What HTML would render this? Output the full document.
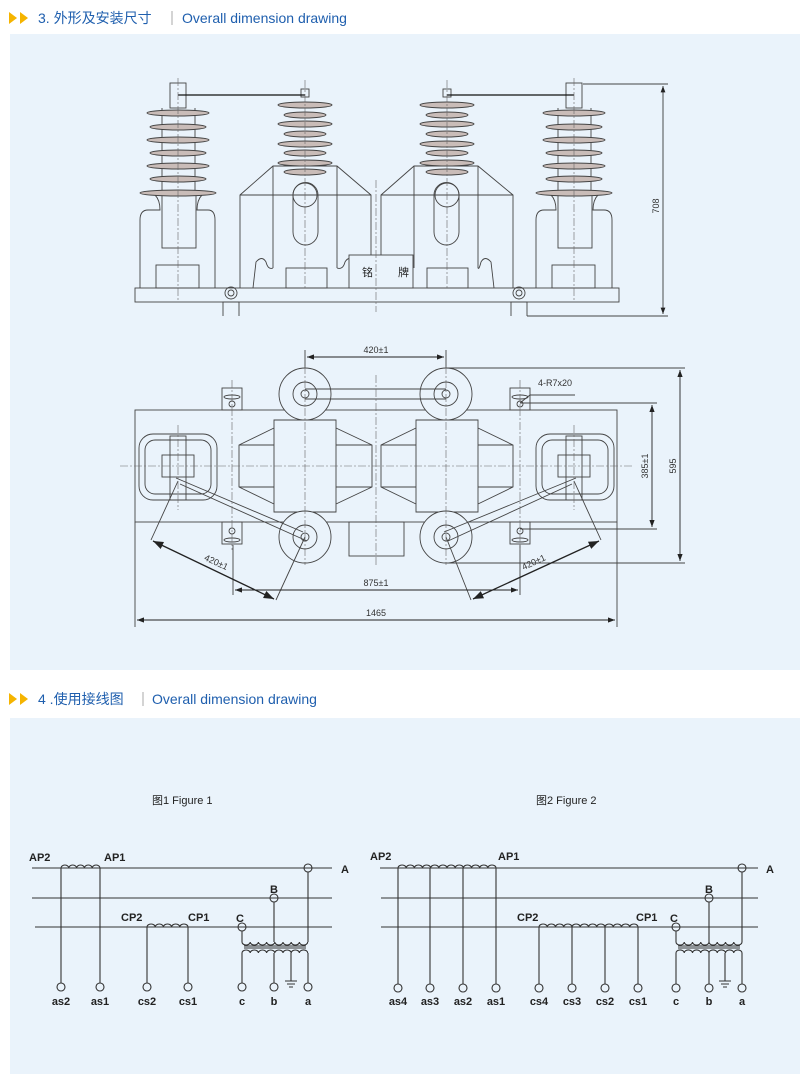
<!DOCTYPE html>
<html><head><meta charset="utf-8"><style>
html,body{margin:0;padding:0;background:#fff;}
svg{display:block;}
.h{font-family:"Liberation Sans","Noto Sans CJK SC",sans-serif;font-size:14px;fill:#1f5fae;}
.t{font-family:"Liberation Sans","Noto Sans CJK SC",sans-serif;font-size:9px;fill:#333;}
.w{font-family:"Liberation Sans","Noto Sans CJK SC",sans-serif;font-size:11px;fill:#222;}
.d{stroke:#444;stroke-width:0.9;fill:none;}
.c{stroke:#666;stroke-width:0.6;fill:none;stroke-dasharray:8 2 2 2;}
.k{stroke:#333;stroke-width:1.1;fill:none;}
</style></head><body>
<svg width="800" height="1074" viewBox="0 0 800 1074" xmlns="http://www.w3.org/2000/svg">
<defs>
<marker id="ar" markerWidth="8" markerHeight="6" refX="8" refY="3" orient="auto-start-reverse"><path d="M0,0 L8,3 L0,6z" fill="#222"/></marker>
</defs>
<polygon points="9,12 17,18 9,24" fill="#f5b400"/><polygon points="20,12 28,18 20,24" fill="#f5b400"/>
<text x="38" y="23" class="h">3.  外形及安装尺寸</text>
<line x1="172" y1="11" x2="172" y2="25" stroke="#aaa"/>
<text x="182" y="23" class="h">Overall dimension drawing</text>
<rect x="10" y="34" width="790" height="636" fill="#eaf3fb"/>

<polygon points="9,693 17,699 9,705" fill="#f5b400"/><polygon points="20,693 28,699 20,705" fill="#f5b400"/>
<text x="38" y="704" class="h">4 .使用接线图</text>
<line x1="143" y1="692" x2="143" y2="706" stroke="#aaa"/>
<text x="152" y="704" class="h">Overall dimension drawing</text>
<rect x="10" y="718" width="790" height="356" fill="#eaf3fb"/>

<!-- ===== SIDE VIEW ===== -->
<g class="d">
<rect x="135" y="288" width="484" height="14"/>
<rect x="170" y="83" width="16" height="25"/>
<path d="M162,108 L162,195 M195,108 L195,195"/>
<path d="M155,195 Q160,200 160,210 L148,210 Q140,210 140,220 L140,288 M202,195 Q197,200 197,210 L208,210 Q215,210 215,220 L215,288"/>
<rect x="162" y="195" width="34" height="53"/>
<rect x="156" y="265" width="43" height="23"/>
<rect x="566" y="83" width="16" height="25"/>
<path d="M558,108 L558,195 M591,108 L591,195"/>
<path d="M551,195 Q556,200 556,210 L544,210 Q536,210 536,220 L536,288 M598,195 Q593,200 593,210 L604,210 Q612,210 612,220 L612,288"/>
<rect x="558" y="195" width="34" height="53"/>
<rect x="552" y="265" width="43" height="23"/>
<path d="M240,288 L240,195 L273,166 L337,166 L371,195 L371,288 M240,195 L371,195 M273,166 L273,268 M337,166 L337,268"/>
<path d="M293,195 A12.5,12.5 0 0 1 318,195 L318,232 A12.5,13 0 0 1 293,232 Z"/>
<circle cx="305" cy="195" r="12"/>
<path d="M253,288 L256,262 Q262,255 266,262 Q268,270 273,268 M337,268 Q343,270 345,262 Q349,255 355,262 L358,288"/>
<rect x="286" y="268" width="41" height="20"/>
<path d="M381,288 L381,195 L414,166 L478,166 L513,195 L513,288 M381,195 L513,195 M414,166 L414,268 M478,166 L478,268"/>
<path d="M434,195 A12.5,12.5 0 0 1 459,195 L459,232 A12.5,13 0 0 1 434,232 Z"/>
<circle cx="447" cy="195" r="12"/>
<path d="M494,288 L491,262 Q485,255 481,262 Q479,270 478,268"/>
<rect x="427" y="268" width="41" height="20"/>
<rect x="349" y="255" width="64" height="33" fill="#eaf3fb"/>
</g>
<text x="362" y="276" class="w">铭</text><text x="398" y="276" class="w">牌</text>
<g fill="#c9bcb8" stroke="#444" stroke-width="0.9">
<ellipse cx="178" cy="113" rx="31" ry="3"/><ellipse cx="178" cy="127" rx="28" ry="3"/><ellipse cx="178" cy="140" rx="31" ry="3"/><ellipse cx="178" cy="153" rx="28" ry="3"/><ellipse cx="178" cy="166" rx="31" ry="3"/><ellipse cx="178" cy="179" rx="28" ry="3"/><ellipse cx="178" cy="193" rx="38" ry="3"/>
<ellipse cx="574" cy="113" rx="31" ry="3"/><ellipse cx="574" cy="127" rx="28" ry="3"/><ellipse cx="574" cy="140" rx="31" ry="3"/><ellipse cx="574" cy="153" rx="28" ry="3"/><ellipse cx="574" cy="166" rx="31" ry="3"/><ellipse cx="574" cy="179" rx="28" ry="3"/><ellipse cx="574" cy="193" rx="38" ry="3"/>
<ellipse cx="305" cy="105" rx="27" ry="3"/><ellipse cx="305" cy="115" rx="21" ry="3"/><ellipse cx="305" cy="124" rx="27" ry="3"/><ellipse cx="305" cy="134" rx="21" ry="3"/><ellipse cx="305" cy="144" rx="27" ry="3"/><ellipse cx="305" cy="153" rx="21" ry="3"/><ellipse cx="305" cy="163" rx="27" ry="3"/><ellipse cx="305" cy="172" rx="21" ry="3"/>
<ellipse cx="447" cy="105" rx="27" ry="3"/><ellipse cx="447" cy="115" rx="21" ry="3"/><ellipse cx="447" cy="124" rx="27" ry="3"/><ellipse cx="447" cy="134" rx="21" ry="3"/><ellipse cx="447" cy="144" rx="27" ry="3"/><ellipse cx="447" cy="153" rx="21" ry="3"/><ellipse cx="447" cy="163" rx="27" ry="3"/><ellipse cx="447" cy="172" rx="21" ry="3"/>
</g>
<g class="d"><rect x="301" y="89" width="8" height="8"/><rect x="443" y="89" width="8" height="8"/></g>
<line x1="178" y1="95" x2="305" y2="95" stroke="#111" stroke-width="1.3"/>
<line x1="447" y1="95" x2="574" y2="95" stroke="#111" stroke-width="1.3"/>
<g class="c"><line x1="178" y1="78" x2="178" y2="300"/><line x1="574" y1="78" x2="574" y2="300"/><line x1="305" y1="80" x2="305" y2="290"/><line x1="447" y1="80" x2="447" y2="290"/><line x1="376" y1="180" x2="376" y2="312"/></g>
<g class="d"><circle cx="231" cy="293" r="6"/><circle cx="231" cy="293" r="3"/><path d="M223,316 L223,302 L239,302 L239,316"/>
<circle cx="519" cy="293" r="6"/><circle cx="519" cy="293" r="3"/><path d="M511,316 L511,302 L527,302 L527,316"/>
<path d="M583,84 L668,84 M527,316 L668,316"/></g>
<line x1="663" y1="86" x2="663" y2="314" stroke="#222" stroke-width="0.8" marker-start="url(#ar)" marker-end="url(#ar)"/>
<text x="0" y="0" class="t" transform="translate(659,206) rotate(-90)" text-anchor="middle">708</text>

<!-- ===== TOP VIEW ===== -->
<g class="d">
<rect x="135" y="410" width="482" height="112"/>
<rect x="222" y="388" width="20" height="22"/><rect x="222" y="522" width="20" height="22"/>
<rect x="510" y="388" width="20" height="22"/><rect x="510" y="522" width="20" height="22"/>
<rect x="349" y="522" width="55" height="34"/>
<path d="M274,420 L336,420 L336,512 L274,512 Z M274,428 L239,445 L239,487 L274,504 M336,428 L372,445 L372,487 L336,504 M239,445 L274,445 M239,487 L274,487 M336,445 L372,445 M336,487 L372,487"/>
<path d="M416,420 L478,420 L478,512 L416,512 Z M416,428 L381,445 L381,487 L416,504 M478,428 L513,445 L513,487 L478,504 M381,445 L416,445 M381,487 L416,487 M478,445 L513,445 M478,487 L513,487"/>
<rect x="139" y="434" width="78" height="66" rx="14"/><rect x="145" y="440" width="66" height="54" rx="10"/>
<rect x="170" y="436" width="16" height="64"/><rect x="162" y="455" width="32" height="22"/>
<rect x="536" y="434" width="78" height="66" rx="14"/><rect x="542" y="440" width="66" height="54" rx="10"/>
<rect x="566" y="436" width="16" height="64"/><rect x="558" y="455" width="32" height="22"/>
<g fill="#eaf3fb">
<circle cx="305" cy="394" r="26"/><circle cx="446" cy="394" r="26"/>
<circle cx="305" cy="537" r="26"/><circle cx="446" cy="537" r="26"/></g>
<circle cx="305" cy="394" r="12"/><circle cx="305" cy="394" r="4"/>
<circle cx="446" cy="394" r="12"/><circle cx="446" cy="394" r="4"/>
<circle cx="305" cy="537" r="12"/><circle cx="305" cy="537" r="4"/>
<circle cx="446" cy="537" r="12"/><circle cx="446" cy="537" r="4"/>
<path d="M305,389 L446,389 M305,399 L446,399"/>
<path d="M176,478 L303,532 M180,484 L307,541"/>
<path d="M576,478 L444,532 M572,484 L448,541"/>
<ellipse cx="232" cy="397" rx="8" ry="2"/><circle cx="232" cy="404" r="3"/>
<ellipse cx="232" cy="540" rx="8" ry="2"/><circle cx="232" cy="531" r="3"/>
<ellipse cx="520" cy="397" rx="8" ry="2"/><circle cx="520" cy="404" r="3"/>
<ellipse cx="520" cy="540" rx="8" ry="2"/><circle cx="520" cy="531" r="3"/>
<path d="M446,368 L685,368 M520,403 L657,403 M520,529 L657,529 M446,563 L685,563"/>
<path d="M305,350 L305,368 M446,350 L446,368"/>
<path d="M233,545 L233,595 M520,545 L520,595 M135,522 L135,627 M617,522 L617,627"/>
<path d="M178,481 L151,540 M305,537 L276,600 M574,481 L601,540 M446,537 L471,600"/>
<path d="M520,403 L530,395 L575,395"/>
</g>
<g class="c"><line x1="120" y1="466" x2="632" y2="466"/><line x1="376" y1="375" x2="376" y2="565"/>
<line x1="305" y1="366" x2="305" y2="565"/><line x1="446" y1="366" x2="446" y2="565"/><line x1="178" y1="425" x2="178" y2="510"/><line x1="574" y1="425" x2="574" y2="510"/><line x1="232" y1="380" x2="232" y2="550"/><line x1="520" y1="380" x2="520" y2="550"/></g>
<g stroke="#222" stroke-width="0.9" fill="none">
<line x1="307" y1="357" x2="444" y2="357" marker-start="url(#ar)" marker-end="url(#ar)"/>
<line x1="680" y1="370" x2="680" y2="561" marker-start="url(#ar)" marker-end="url(#ar)"/>
<line x1="652" y1="405" x2="652" y2="527" marker-start="url(#ar)" marker-end="url(#ar)"/>
<line x1="235" y1="590" x2="518" y2="590" marker-start="url(#ar)" marker-end="url(#ar)"/>
<line x1="137" y1="620" x2="615" y2="620" marker-start="url(#ar)" marker-end="url(#ar)"/>
<line x1="153" y1="541" x2="274" y2="599" stroke-width="1.3" marker-start="url(#ar)" marker-end="url(#ar)"/>
<line x1="599" y1="541" x2="473" y2="599" stroke-width="1.3" marker-start="url(#ar)" marker-end="url(#ar)"/>
</g>
<text x="376" y="353" class="t" text-anchor="middle">420±1</text>
<text x="538" y="386" class="t">4-R7x20</text>
<text class="t" transform="translate(648,466) rotate(-90)" text-anchor="middle">385±1</text>
<text class="t" transform="translate(676,466) rotate(-90)" text-anchor="middle">595</text>
<text x="376" y="586" class="t" text-anchor="middle">875±1</text>
<text x="376" y="616" class="t" text-anchor="middle">1465</text>
<text class="t" transform="translate(215,565) rotate(25)" text-anchor="middle">420±1</text>
<text class="t" transform="translate(535,565) rotate(-25)" text-anchor="middle">420±1</text>

<!-- ===== WIRING ===== -->
<text x="152" y="804" class="w" font-size="13.5">图1 Figure 1</text>
<text x="536" y="804" class="w" font-size="13.5">图2 Figure 2</text>
<g class="k">
<path d="M32,868 L332,868 M32,898 L332,898 M35,927 L332,927"/>
<path d="M61,868 a3.9,3 0 0 1 7.8,0 a3.9,3 0 0 1 7.8,0 a3.9,3 0 0 1 7.8,0 a3.9,3 0 0 1 7.8,0 a3.9,3 0 0 1 7.8,0"/>
<path d="M61,868 L61,983 M100,868 L100,983"/>
<path d="M147,927 a4.1,3 0 0 1 8.2,0 a4.1,3 0 0 1 8.2,0 a4.1,3 0 0 1 8.2,0 a4.1,3 0 0 1 8.2,0 a4.1,3 0 0 1 8.2,0"/>
<path d="M147,927 L147,983 M188,927 L188,983"/>
<path d="M242,931 L242,942 M274,902 L274,942 M308,872 L308,942"/>
<path d="M242,942 a4.1,3 0 0 0 8.2,0 a4.1,3 0 0 0 8.2,0 a4.1,3 0 0 0 8.2,0 a4.1,3 0 0 0 8.2,0 a4.1,3 0 0 0 8.2,0 a4.1,3 0 0 0 8.2,0 a4.1,3 0 0 0 8.2,0 a4.1,3 0 0 0 8.3,0"/>
<path d="M244,946 L306,946 M244,948 L306,948"/>
<path d="M242,953 a4.1,3 0 0 1 8.2,0 a4.1,3 0 0 1 8.2,0 a4.1,3 0 0 1 8.2,0 a4.1,3 0 0 1 8.2,0 a4.1,3 0 0 1 8.2,0 a4.1,3 0 0 1 8.2,0 a4.1,3 0 0 1 8.2,0 a4.1,3 0 0 1 8.3,0"/>
<path d="M242,953 L242,983 M274,953 L274,983 M291,953 L291,981 M308,953 L308,983"/>
<path d="M285,981 L297,981 M287,984 L295,984 M289,987 L293,987"/>
<circle cx="308" cy="868" r="4"/><circle cx="274" cy="898" r="4"/><circle cx="242" cy="927" r="4"/>
<circle cx="61" cy="987" r="4"/><circle cx="100" cy="987" r="4"/><circle cx="147" cy="987" r="4"/><circle cx="188" cy="987" r="4"/><circle cx="242" cy="987" r="4"/><circle cx="274" cy="987" r="4"/><circle cx="308" cy="987" r="4"/>
<path d="M380,868 L758,868 M381,898 L758,898 M381,927 L758,927"/>
<path d="M398,868 a4.08,3 0 0 1 8.17,0 a4.08,3 0 0 1 8.17,0 a4.08,3 0 0 1 8.17,0 a4.08,3 0 0 1 8.17,0 a4.08,3 0 0 1 8.17,0 a4.08,3 0 0 1 8.17,0 a4.08,3 0 0 1 8.17,0 a4.08,3 0 0 1 8.17,0 a4.08,3 0 0 1 8.17,0 a4.08,3 0 0 1 8.17,0 a4.08,3 0 0 1 8.17,0 a4.08,3 0 0 1 8.17,0"/>
<path d="M398,868 L398,984 M430,868 L430,984 M463,868 L463,984 M496,868 L496,984"/>
<path d="M539,927 a4.12,3 0 0 1 8.25,0 a4.12,3 0 0 1 8.25,0 a4.12,3 0 0 1 8.25,0 a4.12,3 0 0 1 8.25,0 a4.12,3 0 0 1 8.25,0 a4.12,3 0 0 1 8.25,0 a4.12,3 0 0 1 8.25,0 a4.12,3 0 0 1 8.25,0 a4.12,3 0 0 1 8.25,0 a4.12,3 0 0 1 8.25,0 a4.12,3 0 0 1 8.25,0 a4.12,3 0 0 1 8.25,0"/>
<path d="M539,927 L539,984 M572,927 L572,984 M605,927 L605,984 M638,927 L638,984"/>
<path d="M676,931 L676,942 M709,902 L709,942 M742,872 L742,942"/>
<path d="M676,942 a4.1,3 0 0 0 8.25,0 a4.1,3 0 0 0 8.25,0 a4.1,3 0 0 0 8.25,0 a4.1,3 0 0 0 8.25,0 a4.1,3 0 0 0 8.25,0 a4.1,3 0 0 0 8.25,0 a4.1,3 0 0 0 8.25,0 a4.1,3 0 0 0 8.25,0"/>
<path d="M678,946 L740,946 M678,948 L740,948"/>
<path d="M676,953 a4.1,3 0 0 1 8.25,0 a4.1,3 0 0 1 8.25,0 a4.1,3 0 0 1 8.25,0 a4.1,3 0 0 1 8.25,0 a4.1,3 0 0 1 8.25,0 a4.1,3 0 0 1 8.25,0 a4.1,3 0 0 1 8.25,0 a4.1,3 0 0 1 8.25,0"/>
<path d="M676,953 L676,984 M709,953 L709,984 M725,953 L725,981 M742,953 L742,984"/>
<path d="M719,981 L731,981 M721,984 L729,984 M723,987 L727,987"/>
<circle cx="742" cy="868" r="4"/><circle cx="709" cy="898" r="4"/><circle cx="676" cy="927" r="4"/>
<circle cx="398" cy="988" r="4"/><circle cx="430" cy="988" r="4"/><circle cx="463" cy="988" r="4"/><circle cx="496" cy="988" r="4"/><circle cx="539" cy="988" r="4"/><circle cx="572" cy="988" r="4"/><circle cx="605" cy="988" r="4"/><circle cx="638" cy="988" r="4"/><circle cx="676" cy="988" r="4"/><circle cx="709" cy="988" r="4"/><circle cx="742" cy="988" r="4"/>
</g>
<g class="w" font-size="11" font-weight="bold" fill="#333">
<text x="29" y="861">AP2</text><text x="104" y="861">AP1</text><text x="341" y="873">A</text><text x="270" y="893">B</text>
<text x="121" y="921">CP2</text><text x="188" y="921">CP1</text><text x="236" y="922">C</text>
<g text-anchor="middle"><text x="61" y="1005">as2</text><text x="100" y="1005">as1</text><text x="147" y="1005">cs2</text><text x="188" y="1005">cs1</text><text x="242" y="1005">c</text><text x="274" y="1005">b</text><text x="308" y="1005">a</text></g>
<text x="370" y="860">AP2</text><text x="498" y="860">AP1</text><text x="766" y="873">A</text><text x="705" y="893">B</text>
<text x="517" y="921">CP2</text><text x="636" y="921">CP1</text><text x="670" y="922">C</text>
<g text-anchor="middle"><text x="398" y="1005">as4</text><text x="430" y="1005">as3</text><text x="463" y="1005">as2</text><text x="496" y="1005">as1</text><text x="539" y="1005">cs4</text><text x="572" y="1005">cs3</text><text x="605" y="1005">cs2</text><text x="638" y="1005">cs1</text><text x="676" y="1005">c</text><text x="709" y="1005">b</text><text x="742" y="1005">a</text></g>
</g>
</svg>
</body></html>
